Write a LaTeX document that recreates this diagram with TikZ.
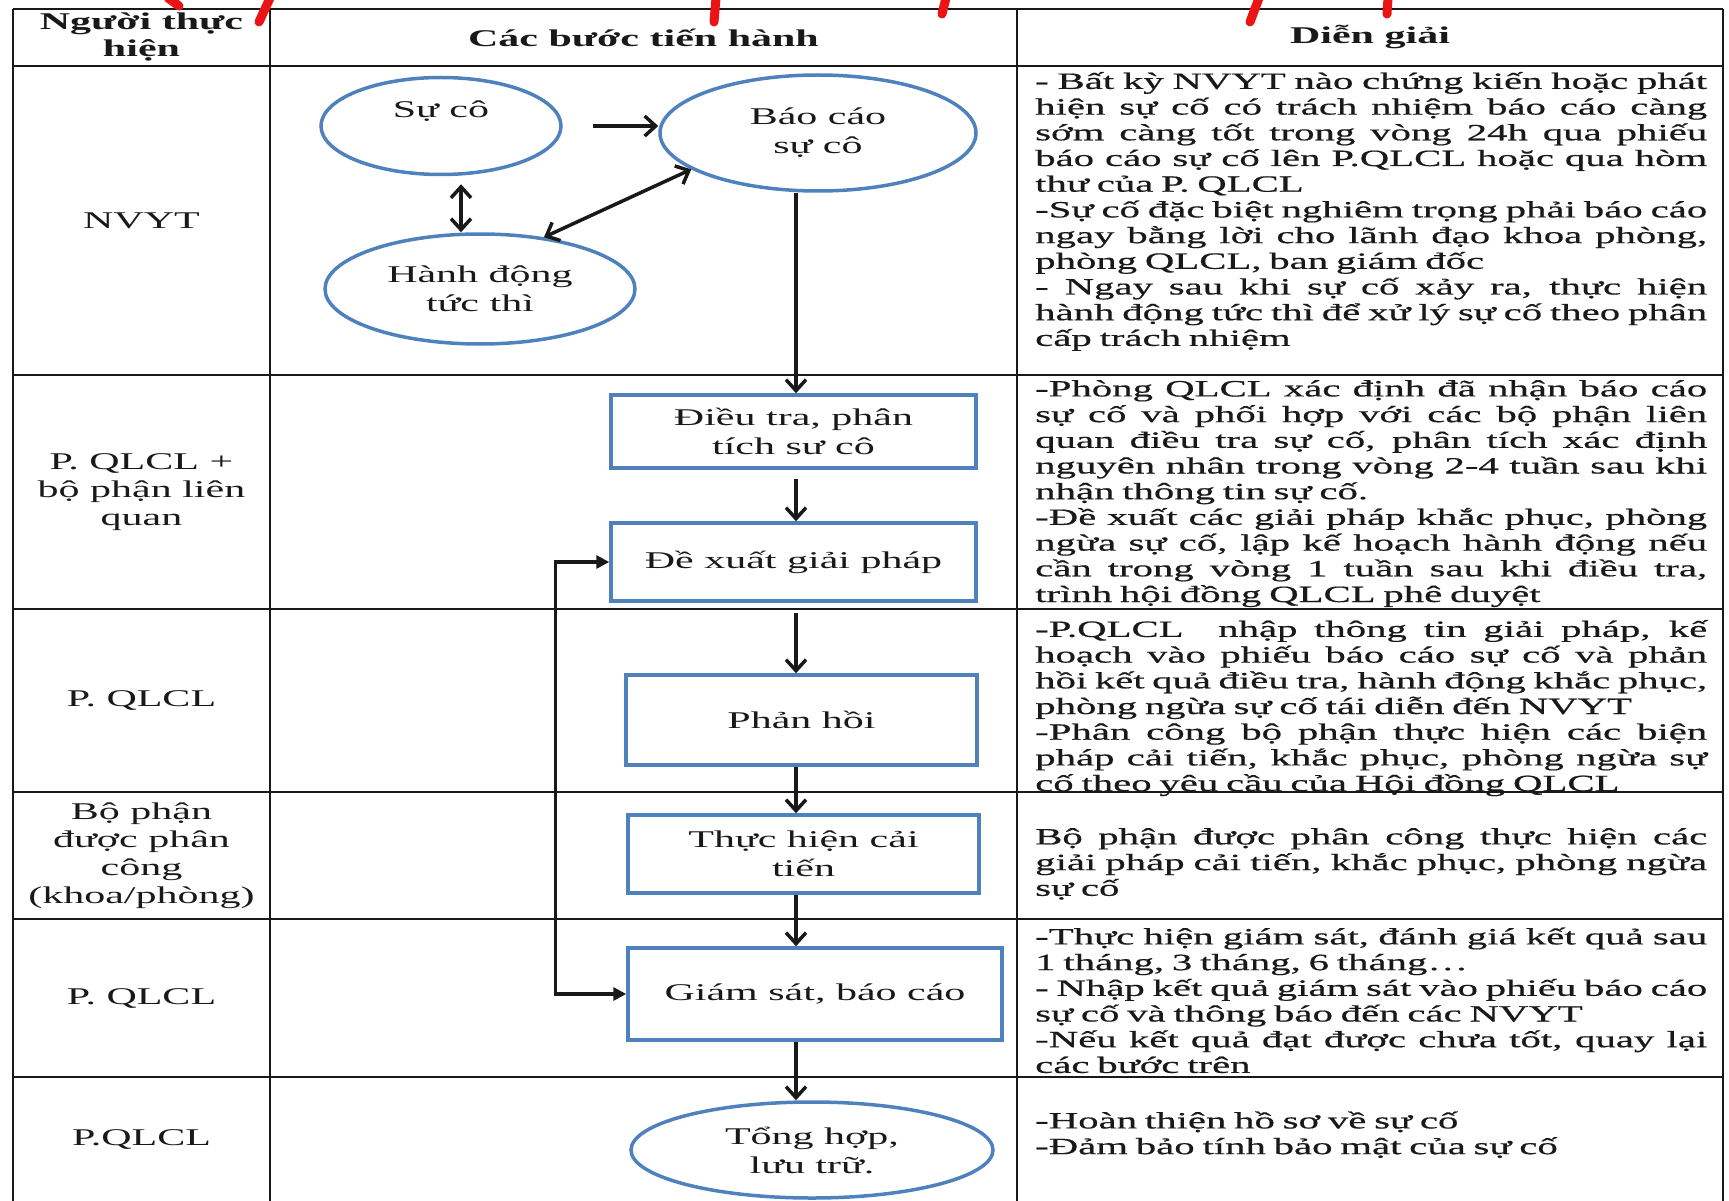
\documentclass[tikz,border=0pt]{standalone}
\usepackage{fontspec}
\setmainfont{Liberation Serif}[FakeStretch=1.75]
\newfontfamily\notefont{Liberation Serif}[FakeStretch=1.75,FakeBold=0.6]
\usetikzlibrary{shapes.geometric,arrows.meta,calc}

\definecolor{shapeblue}{RGB}{79,129,189}
\definecolor{ink}{RGB}{25,25,25}
\definecolor{titlered}{RGB}{235,20,20}

% one line of the explanation column: justified (\jrow) or ragged (\lrow)
\newcommand\rowstrut{\vrule height 18pt depth 7pt width 0pt}
\newcommand\jrow[1]{\par\noindent\hbox to\hsize{\spaceskip=\fontdimen2\font plus 1fil minus 0.3\fontdimen2\font\rowstrut#1}\par}
\newcommand\lrow[1]{\par\noindent\hbox to\hsize{\rowstrut#1\hfil}\par}

\begin{document}
\begin{tikzpicture}[x=1pt,y=-1pt,
  grid/.style={draw=ink, line width=2.5pt},
  head/.style={inner sep=0pt, align=center, text=ink,
    font={\bfseries\fontsize{24}{27}\selectfont}},
  who/.style={inner sep=0pt, align=center, text=ink,
    font={\fontsize{24}{28}\selectfont}},
  oval/.style={ellipse, draw=shapeblue, line width=3.5pt, inner sep=0pt,
    align=center, text=ink, font={\fontsize{24}{29}\selectfont}},
  stepbox/.style={rectangle, draw=shapeblue, line width=3.5pt, inner sep=0pt,
    align=center, text=ink, font={\fontsize{24}{29}\selectfont}},
  flow/.style={draw=ink, line width=3.5pt,
    -{Straight Barb[length=11pt,width=20pt]}},
  twoway/.style={draw=ink, line width=3.5pt,
    {Straight Barb[length=11pt,width=20pt]}-{Straight Barb[length=11pt,width=20pt]}},
  loopback/.style={draw=ink, line width=3.5pt,
    {Triangle[length=13pt,width=13pt]}-{Triangle[length=13pt,width=13pt]}},
  note/.style={anchor=north west, inner sep=0pt, text width=672pt, text=ink,
    font={\notefont\fontsize{23.3}{25.7}\selectfont\lineskiplimit=-100pt}},
  redmark/.style={draw=titlered, line width=9pt, line cap=round}
]
\useasboundingbox (0,0) rectangle (1729,1201);

% ---------- table grid ----------
\foreach \y in {9,66,375,609,792,919,1077}
  \draw[grid] (13,\y) -- (1723,\y);
\foreach \x in {13,270,1017,1723}
  \draw[grid] (\x,9) -- (\x,1201);

% ---------- header ----------
\node[head] (h1) at (141.5,37.5) {Người thực\\hiện};
\node[head] (h2) at (643.5,37.5) {Các bước tiến hành};
\node[head] (h3) at (1370,37.5) {Diễn giải};

% ---------- who carries out each step ----------
\node[who] (w1) at (141.5,220.5) {NVYT};
\node[who] (w2) at (141.5,492) {P. QLCL +\\bộ phận liên\\quan};
\node[who] (w3) at (141.5,700.5) {P. QLCL};
\node[who] (w4) at (141.5,855.5) {Bộ phận\\được phân\\công\\(khoa/phòng)};
\node[who] (w5) at (141.5,998) {P. QLCL};
\node[who] (w6) at (141.5,1139) {P.QLCL};

% ---------- process steps ----------
\node[oval, minimum width=240pt, minimum height=97pt] (sc) at (441,126) {Sự cô\\\phantom{g}};
\node[oval, minimum width=316pt, minimum height=116pt] (bc) at (818,133) {Báo cáo\\sự cô};
\node[oval, minimum width=310pt, minimum height=110pt] (hd) at (480,289) {Hành động\\tức thì};
\node[stepbox, minimum width=365pt, minimum height=73pt] (dt) at (793.5,431.5) {Điều tra, phân\\tích sư cô};
\node[stepbox, minimum width=365pt, minimum height=78pt] (dx) at (793.5,562) {Đề xuất giải pháp};
\node[stepbox, minimum width=351pt, minimum height=90pt] (ph) at (801.5,720) {Phản hồi};
\node[stepbox, minimum width=351pt, minimum height=78pt] (thc) at (803.5,854) {Thực hiện cải\\tiến};
\node[stepbox, minimum width=374pt, minimum height=92pt] (gs) at (815,994) {Giám sát, báo cáo};
\node[oval, minimum width=362pt, minimum height=96pt] (tk) at (812,1150) {Tổng hợp,\\lưu trữ.};

% ---------- connectors ----------
\coordinate (spine) at (796,0);
\draw[flow, shorten <=30pt] (sc.east) -- (sc.east -| bc.west);
\draw[twoway] ([xshift=20pt,yshift=-8pt]sc.south) -- ([xshift=20pt]sc.south |- hd.north);
\draw[twoway] (bc.196) -- (hd.39);
\draw[flow] (spine |- bc.south) -- (spine |- dt.north);
\draw[flow, shorten <=9pt] (spine |- dt.south) -- (spine |- dx.north);
\draw[flow, shorten <=10pt] (spine |- dx.south) -- (spine |- ph.north);
\draw[flow] (spine |- ph.south) -- (spine |- thc.north);
\draw[flow] (spine |- thc.south) -- (spine |- gs.north);
\draw[flow] (spine |- gs.south) -- (spine |- tk.north);
\draw[loopback] (dx.west) -- ++(-54,0) |- (gs.west);

% ---------- explanations ----------
\node[note] (n1) at (1035,63) {%
\jrow{- Bất kỳ NVYT nào chứng kiến hoặc phát}
\jrow{hiện sự cố có trách nhiệm báo cáo càng}
\jrow{sớm càng tốt trong vòng 24h qua phiếu}
\jrow{báo cáo sự cố lên P.QLCL hoặc qua hòm}
\lrow{thư của P. QLCL}
\jrow{-Sự cố đặc biệt nghiêm trọng phải báo cáo}
\jrow{ngay bằng lời cho lãnh đạo khoa phòng,}
\lrow{phòng QLCL, ban giám đốc}
\jrow{- Ngay sau khi sự cố xảy ra, thực hiện}
\jrow{hành động tức thì để xử lý sự cố theo phân}
\lrow{cấp trách nhiệm}};

\node[note] (n2) at (1035,370.5) {%
\jrow{-Phòng QLCL xác định đã nhận báo cáo}
\jrow{sự cố và phối hợp với các bộ phận liên}
\jrow{quan điều tra sự cố, phân tích xác định}
\jrow{nguyên nhân trong vòng 2-4 tuần sau khi}
\lrow{nhận thông tin sự cố.}
\jrow{-Đề xuất các giải pháp khắc phục, phòng}
\jrow{ngừa sự cố, lập kế hoạch hành động nếu}
\jrow{cần trong vòng 1 tuần sau khi điều tra,}
\lrow{trình hội đồng QLCL phê duyệt}};

\node[note] (n3) at (1035,611) {%
\jrow{-P.QLCL\hspace{18pt} nhập thông tin giải pháp, kế}
\jrow{hoạch vào phiếu báo cáo sự cố và phản}
\jrow{hồi kết quả điều tra, hành động khắc phục,}
\lrow{phòng ngừa sự cố tái diễn đến NVYT}
\jrow{-Phân công bộ phận thực hiện các biện}
\jrow{pháp cải tiến, khắc phục, phòng ngừa sự}
\lrow{cố theo yêu cầu của Hội đồng QLCL}};

\node[note] (n4) at (1035,818.5) {%
\jrow{Bộ phận được phân công thực hiện các}
\jrow{giải pháp cải tiến, khắc phục, phòng ngừa}
\lrow{sự cố}};

\node[note] (n5) at (1035,918.5) {%
\jrow{-Thực hiện giám sát, đánh giá kết quả sau}
\lrow{1 tháng, 3 tháng, 6 tháng…}
\jrow{- Nhập kết quả giám sát vào phiếu báo cáo}
\lrow{sự cố và thông báo đến các NVYT}
\jrow{-Nếu kết quả đạt được chưa tốt, quay lại}
\lrow{các bước trên}};

\node[note] (n6) at (1035,1102.5) {%
\lrow{-Hoàn thiện hồ sơ về sự cố}
\lrow{-Đảm bảo tính bảo mật của sự cố}};

% ---------- red strokes along the top edge ----------
\draw[redmark] (168,-2) -- (179,6);
\draw[redmark] (270,-2) -- (259,22);
\draw[redmark] (716,-2) -- (714,22);
\draw[redmark] (946,-2) -- (942,14);
\draw[redmark] (1259,-2) -- (1250,22);
\draw[redmark] (1388,-2) -- (1387,14);
\end{tikzpicture}
\end{document}
